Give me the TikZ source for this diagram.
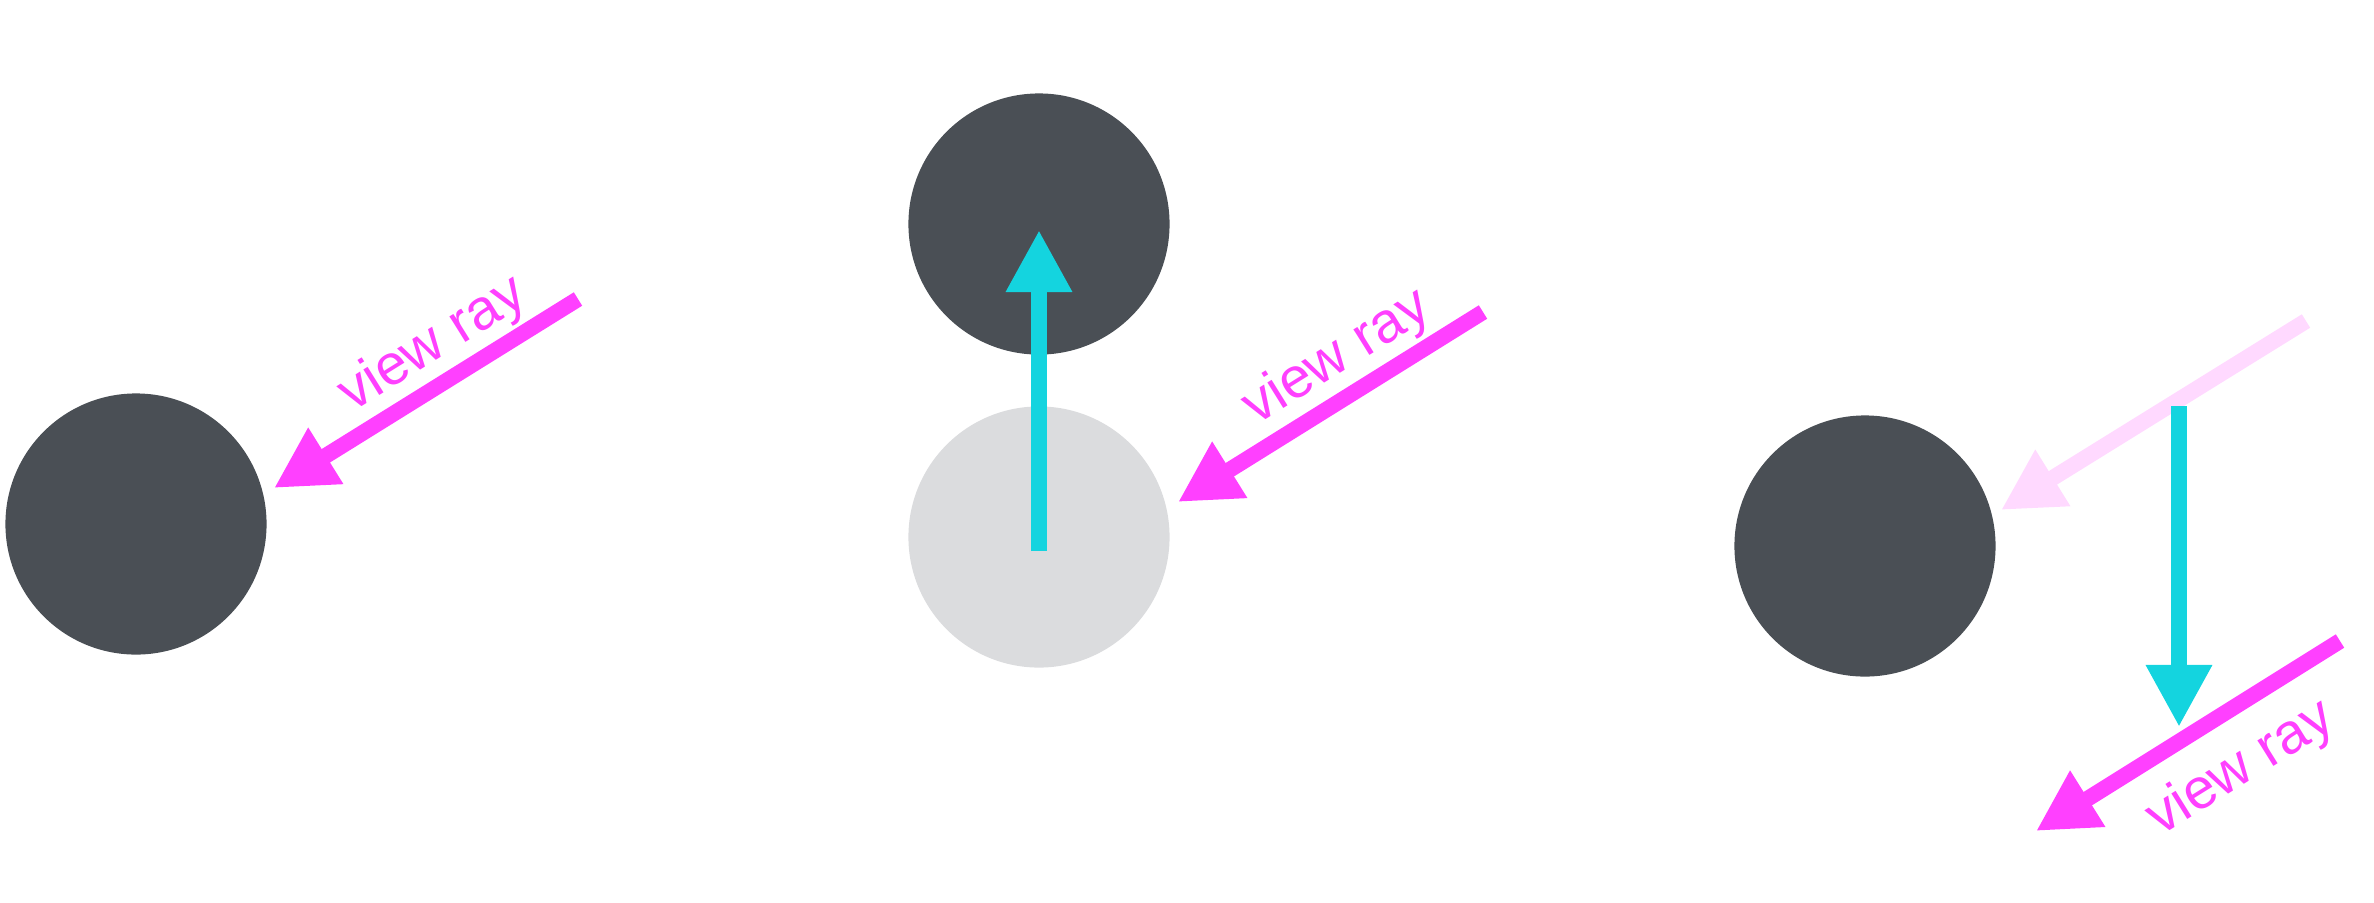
\documentclass[tikz,border=0pt]{standalone}
\usepackage{fontspec}
\setmainfont{Liberation Sans}
\usetikzlibrary{arrows.meta}
\definecolor{darkball}{HTML}{4A4F55}
\definecolor{lightball}{HTML}{DBDCDE}
\definecolor{raypink}{HTML}{FF40FF}
\definecolor{normalcyan}{HTML}{14D4DF}

\begin{document}
\begin{tikzpicture}[x=0.01cm,y=0.01cm,
  ball/.style={circle,fill=darkball,draw=none,minimum size=2.61cm,inner sep=0pt},
  ghost/.style={ball,fill=lightball},
  ray/.style={draw=raypink,line width=4.5pt,-{Triangle[length=0.61cm,width=0.62cm]}},
  oldray/.style={ray,draw=raypink!20!white},
  normal/.style={draw=normalcyan,line width=4.5pt,-{Triangle[length=0.62cm,width=0.62cm]}},
  raylabel/.style={text=raypink,font=\fontsize{16.2}{19}\selectfont,rotate=31.9,inner sep=0pt}]
\useasboundingbox (0,0) rectangle (2374,-902);

\node[ball] (ballA) at (136,-524) {};
\coordinate (rayAfrom) at (578,-299);
\coordinate (rayAto) at (274,-488);
\draw[ray] (rayAfrom) -- (rayAto);
\node[raylabel] (labelA) at (433,-345) {view ray};

\node[ball] (ballB) at (1039,-224) {};
\node[ghost] (ballBold) at (1039,-537) {};
\coordinate (normBfrom) at (1039,-551);
\coordinate (normBto) at (1039,-230);
\draw[normal] (normBfrom) -- (normBto);
\coordinate (rayBfrom) at (1483,-312);
\coordinate (rayBto) at (1178,-502);
\draw[ray] (rayBfrom) -- (rayBto);
\node[raylabel] (labelB) at (1337,-358) {view ray};

\node[ball] (ballC) at (1865,-546) {};
\coordinate (oldrayfrom) at (2306,-321);
\coordinate (oldrayto) at (2001,-510);
\draw[oldray] (oldrayfrom) -- (oldrayto);
\coordinate (normCfrom) at (2179,-406);
\coordinate (normCto) at (2179,-727);
\draw[normal] (normCfrom) -- (normCto);
\coordinate (rayCfrom) at (2340,-641);
\coordinate (rayCto) at (2036,-831);
\draw[ray] (rayCfrom) -- (rayCto);
\node[raylabel] (labelC) at (2241,-769) {view ray};
\end{tikzpicture}
\end{document}
